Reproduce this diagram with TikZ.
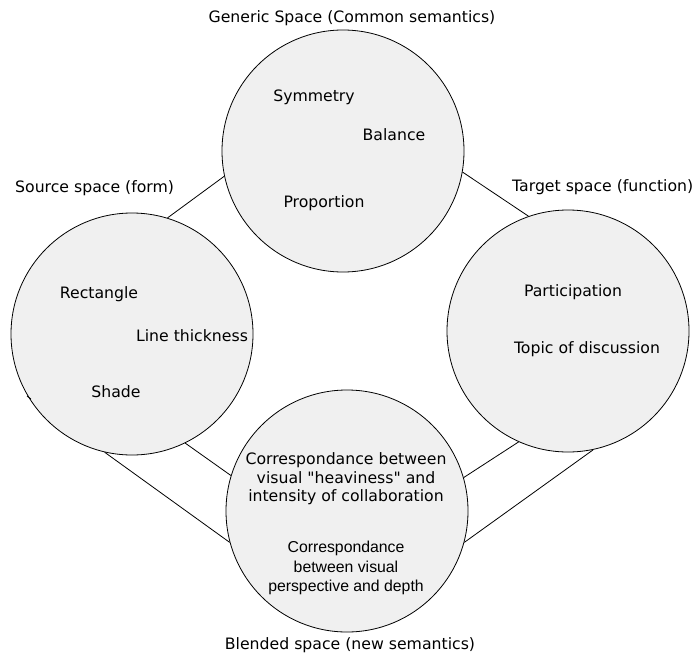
\documentclass[tikz,border=0pt]{standalone}
\usepackage{fontspec}
\setmainfont{DejaVu Sans}
\newfontfamily\arialfont{Liberation Sans}
\begin{document}
\begin{tikzpicture}[x=1pt,y=-1pt,
  space/.style={circle,draw=black,fill=black!6,line width=0.8pt,minimum size=242pt,inner sep=0pt},
  lbl/.style={font=\fontsize{15.7}{18}\selectfont,inner sep=0pt},
  small/.style={font=\arialfont\fontsize{15.8}{19.5}\selectfont,align=center,inner sep=0pt},
  link/.style={line width=0.8pt}]
\useasboundingbox (0,0) rectangle (700,655);
\node[space] (top) at (343,151) {};
\node[space] (left) at (132,334) {};
\node[space] (right) at (568,331) {};
\node[space] (bottom) at (347,511) {};
% connectors
\draw[link] (left.73.5) -- (top.192.3);
\draw[link] (top.-10) -- (right.109.5);
\draw[link] (left.-64) -- (bottom.163);
\draw[link] (left.-103.8) -- (bottom.195.4);
\draw[link] (right.-114.9) -- (bottom.16.2);
\draw[link] (right.-78.7) -- (bottom.-15.4);
\coordinate (stubA) at (27,396);
\coordinate (stubB) at (31,399);
\draw[link] (stubA) -- (stubB);
% titles
\node[lbl] (tg) at (352,18) {Generic Space (Common semantics)};
\node[lbl,anchor=west] (ts) at (15,188) {Source space (form)};
\node[lbl,anchor=west] (tt) at (512,187) {Target space (function)};
\node[lbl] (tb) at (350,645) {Blended space (new semantics)};
% contents
\node[lbl] (sym) at (314,97) {Symmetry};
\node[lbl] (bal) at (394,135) {Balance};
\node[lbl] (pro) at (324,203) {Proportion};
\node[lbl] (rec) at (99,294) {Rectangle};
\node[lbl] (lt) at (192,336) {Line thickness};
\node[lbl] (sha) at (116,392) {Shade};
\node[lbl] (par) at (573,292) {Participation};
\node[lbl] (top2) at (587,349) {Topic of discussion};
\node[lbl,align=center,font=\fontsize{15.7}{18.5}\selectfont] (c1) at (346,479) {Correspondance between\\visual \textquotedbl heaviness\textquotedbl{} and\\intensity of collaboration};
\node[small] (c2) at (346,568) {Correspondance\\between visual\\perspective and depth};
\end{tikzpicture}
\end{document}
